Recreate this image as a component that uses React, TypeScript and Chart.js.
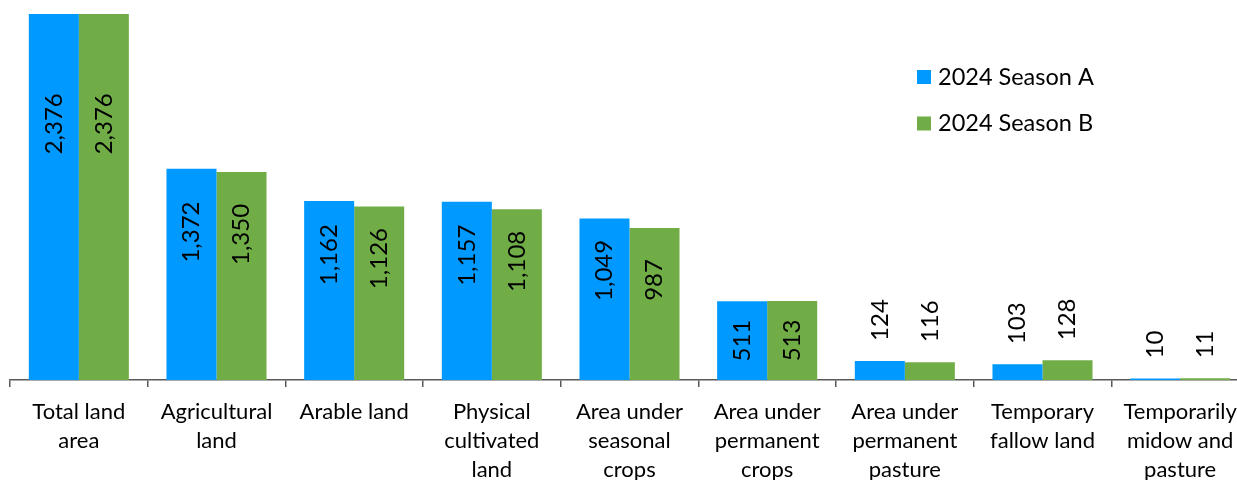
import React, { useEffect, useRef } from "react";
import { Chart, registerables } from "chart.js";

Chart.register(...registerables);

const categories: string[][] = [
  ["Total land", "area"],
  ["Agricultural", "land"],
  ["Arable land"],
  ["Physical", "cultivated", "land"],
  ["Area under", "seasonal", "crops"],
  ["Area under", "permanent", "crops"],
  ["Area under", "permanent", "pasture"],
  ["Temporary", "fallow land"],
  ["Temporarily", "midow and", "pasture"],
];

const seriesNames = ["2024 Season A", "2024 Season B"];
const seasonA = [2376, 1372, 1162, 1157, 1049, 511, 124, 103, 10];
const seasonB = [2376, 1350, 1126, 1108, 987, 513, 116, 128, 11];
const colors = ["#0099FF", "#70AD47"];

const FONT = "Lato, 'Noto Sans', sans-serif";

const labelPlugin = {
  id: "valueLabels",
  afterDatasetsDraw(chart: any) {
    const ctx = chart.ctx;
    ctx.save();
    ctx.font = `24px ${FONT}`;
    ctx.fillStyle = "#000";
    chart.data.datasets.forEach((ds: any, di: number) => {
      const meta = chart.getDatasetMeta(di);
      meta.data.forEach((bar: any, i: number) => {
        const v = ds.data[i];
        const text = v.toLocaleString("en-US");
        const tw = ctx.measureText(text).width;
        const h = bar.base - bar.y;
        ctx.save();
        if (h > tw + 12) {
          const off = Math.min(h / 2, Math.max(52, h * 0.3));
          ctx.translate(bar.x, bar.y + off);
          ctx.rotate(-Math.PI / 2);
          ctx.textAlign = "center";
          ctx.textBaseline = "middle";
          ctx.fillText(text, 0, 0);
        } else {
          ctx.translate(bar.x, bar.y - 20);
          ctx.rotate(-Math.PI / 2);
          ctx.textAlign = "left";
          ctx.textBaseline = "middle";
          ctx.fillText(text, 0, 0);
        }
        ctx.restore();
      });
    });
    ctx.restore();
  },
};

const legendPlugin = {
  id: "customLegend",
  afterDraw(chart: any) {
    const ctx = chart.ctx;
    ctx.save();
    ctx.font = `23.5px ${FONT}`;
    ctx.textBaseline = "middle";
    ctx.textAlign = "left";
    const x0 = 909;
    const ys = [69, 115.5];
    seriesNames.forEach((name, i) => {
      ctx.fillStyle = colors[i];
      ctx.fillRect(x0, ys[i] - 7, 14, 14);
      ctx.fillStyle = "#000";
      ctx.fillText(name, x0 + 21, ys[i]);
    });
    ctx.restore();
  },
};

export default function App() {
  const ref = useRef<HTMLCanvasElement | null>(null);
  useEffect(() => {
    if (!ref.current) return;
    const chart = new Chart(ref.current, {
      type: "bar",
      data: {
        labels: categories,
        datasets: [
          {
            label: seriesNames[0],
            data: seasonA,
            backgroundColor: colors[0],
            categoryPercentage: 0.7267,
            barPercentage: 1,
          },
          {
            label: seriesNames[1],
            data: seasonB,
            backgroundColor: colors[1],
            categoryPercentage: 0.7267,
            barPercentage: 1,
          },
        ],
      },
      options: {
        responsive: false,
        animation: false,
        layout: { padding: { left: 2, top: 6, right: 0, bottom: 0 } },
        plugins: {
          legend: { display: false },
          tooltip: { enabled: false },
        },
        scales: {
          x: {
            offset: true,
            afterFit: (scale: any) => {
              scale.height = 128;
            },
            border: { display: true, color: "#595959", width: 1.5 },
            grid: {
              offset: true,
              drawOnChartArea: false,
              drawTicks: true,
              tickLength: 7,
              color: "#595959",
              lineWidth: 1.5,
            },
            ticks: {
              autoSkip: false,
              maxRotation: 0,
              minRotation: 0,
              padding: 10,
              color: "#000",
              font: { family: FONT, size: 22, lineHeight: 1.32 },
            },
          },
          y: {
            display: false,
            min: 0,
            max: 2376,
          },
        },
      },
      plugins: [labelPlugin, legendPlugin],
    });
    return () => chart.destroy();
  }, []);
  return (
    <div
      style={{
        position: "fixed",
        left: 8,
        top: 8,
        width: 1229,
        height: 472,
        overflow: "hidden",
      }}
    >
      <canvas ref={ref} width={1241} height={500} style={{ display: "block" }} />
    </div>
  );
}
